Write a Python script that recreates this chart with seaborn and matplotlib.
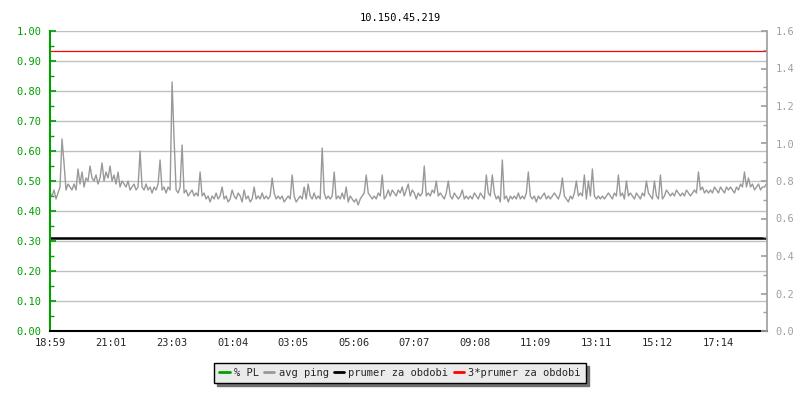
import matplotlib
matplotlib.use('Agg')
import matplotlib.pyplot as plt
import seaborn as sns
import numpy as np
import pandas as pd
from matplotlib.ticker import MultipleLocator, FormatStrFormatter
from matplotlib.lines import Line2D

# ==========================================
# DATA
# ==========================================
title = "10.150.45.219"
tick_labels = ["18:59", "21:01", "23:03", "01:04", "03:05", "05:06",
               "07:07", "09:08", "11:09", "13:11", "15:12", "17:14"]
sample_step_min = 4          # one sample every 4 minutes
x_end_min = 1433

avg_ping = [
    0.46, 0.45, 0.47, 0.44, 0.46, 0.48, 0.64, 0.56, 0.47, 0.49,
    0.48, 0.47, 0.49, 0.47, 0.54, 0.49, 0.53, 0.48, 0.51, 0.50,
    0.55, 0.51, 0.50, 0.52, 0.49, 0.51, 0.56, 0.50, 0.53, 0.51,
    0.55, 0.50, 0.52, 0.49, 0.53, 0.48, 0.50, 0.49, 0.48, 0.50,
    0.47, 0.48, 0.49, 0.47, 0.48, 0.60, 0.48, 0.47, 0.49, 0.47,
    0.48, 0.46, 0.48, 0.47, 0.49, 0.57, 0.47, 0.48, 0.46, 0.48,
    0.47, 0.83, 0.64, 0.47, 0.46, 0.48, 0.62, 0.46, 0.47, 0.45,
    0.46, 0.47, 0.45, 0.46, 0.45, 0.53, 0.45, 0.46, 0.44, 0.45,
    0.43, 0.45, 0.44, 0.46, 0.44, 0.45, 0.48, 0.44, 0.45, 0.43,
    0.44, 0.47, 0.45, 0.44, 0.46, 0.45, 0.43, 0.47, 0.44, 0.45,
    0.43, 0.44, 0.48, 0.44, 0.45, 0.44, 0.46, 0.44, 0.45, 0.44,
    0.45, 0.51, 0.46, 0.44, 0.45, 0.44, 0.45, 0.43, 0.44, 0.45,
    0.44, 0.52, 0.45, 0.43, 0.44, 0.45, 0.44, 0.48, 0.44, 0.49,
    0.45, 0.44, 0.46, 0.44, 0.45, 0.44, 0.61, 0.46, 0.44, 0.45,
    0.44, 0.45, 0.53, 0.44, 0.45, 0.44, 0.46, 0.44, 0.48, 0.43,
    0.45, 0.44, 0.43, 0.44, 0.42, 0.44, 0.45, 0.46, 0.52, 0.46,
    0.45, 0.44, 0.45, 0.44, 0.46, 0.45, 0.52, 0.44, 0.45, 0.47,
    0.45, 0.47, 0.46, 0.45, 0.47, 0.46, 0.48, 0.45, 0.47, 0.49,
    0.45, 0.47, 0.46, 0.44, 0.46, 0.45, 0.46, 0.55, 0.45, 0.46,
    0.45, 0.47, 0.46, 0.50, 0.45, 0.46, 0.45, 0.44, 0.46, 0.50,
    0.45, 0.44, 0.46, 0.45, 0.44, 0.45, 0.47, 0.44, 0.45, 0.44,
    0.45, 0.44, 0.46, 0.45, 0.44, 0.46, 0.45, 0.44, 0.52, 0.46,
    0.45, 0.52, 0.46, 0.44, 0.45, 0.43, 0.57, 0.44, 0.45, 0.43,
    0.45, 0.44, 0.45, 0.44, 0.46, 0.44, 0.45, 0.44, 0.46, 0.53,
    0.45, 0.44, 0.45, 0.43, 0.45, 0.44, 0.45, 0.46, 0.44, 0.45,
    0.44, 0.45, 0.46, 0.45, 0.44, 0.46, 0.51, 0.45, 0.44, 0.43,
    0.45, 0.44, 0.46, 0.50, 0.45, 0.46, 0.45, 0.52, 0.44, 0.50,
    0.45, 0.54, 0.45, 0.44, 0.45, 0.44, 0.45, 0.44, 0.45, 0.46,
    0.45, 0.44, 0.46, 0.45, 0.52, 0.45, 0.46, 0.44, 0.50, 0.45,
    0.46, 0.45, 0.44, 0.46, 0.45, 0.44, 0.46, 0.45, 0.50, 0.46,
    0.45, 0.44, 0.50, 0.45, 0.44, 0.52, 0.44, 0.45, 0.47, 0.46,
    0.45, 0.46, 0.45, 0.47, 0.46, 0.45, 0.46, 0.45, 0.47, 0.46,
    0.45, 0.46, 0.47, 0.46, 0.53, 0.47, 0.48, 0.46, 0.47, 0.46,
    0.47, 0.46, 0.48, 0.47, 0.46, 0.48, 0.47, 0.46, 0.48, 0.47,
    0.48, 0.47, 0.46, 0.48, 0.47, 0.49, 0.48, 0.53, 0.48, 0.51,
    0.48, 0.49, 0.47, 0.48, 0.49, 0.47, 0.48, 0.48, 0.49,
]
pl_values = []               # % PL: nothing to draw
prumer = 0.31
prumer3 = 0.935

series_names = ['% PL', 'avg ping', 'prumer za obdobi', '3*prumer za obdobi']

# ==========================================
# PREP
# ==========================================
def minutes_from_start(label, start="18:59"):
    h, m = map(int, label.split(':'))
    h0, m0 = map(int, start.split(':'))
    return ((h * 60 + m) - (h0 * 60 + m0)) % 1440

tick_pos = [minutes_from_start(t) for t in tick_labels]
df = pd.DataFrame({'t': np.arange(len(avg_ping)) * sample_step_min, 'ping': avg_ping})

GREEN = '#00a000'
GRAY = '#999999'
RGRAY = '#a0a0a0'
RED = '#ff0000'
FS = 7.5

sns.set_theme(style="white")
plt.rcParams['font.family'] = ['DejaVu Sans Mono']

fig = plt.figure(figsize=(8, 4), dpi=100)
ax = fig.add_axes([0.0625, 0.1725, 0.89625, 0.75])

ax.plot(pl_values, pl_values, color=GREEN, lw=2)
sns.lineplot(data=df, x='t', y='ping', ax=ax, color=GRAY, lw=1, legend=False)
ax.axhline(prumer, color='black', lw=1.8)
ax.axhline(prumer3, color=RED, lw=0.9)

ax.set_xlim(0, x_end_min)
ax.set_ylim(0, 1.0)
ax.set_xlabel('')
ax.set_ylabel('')
ax.yaxis.set_major_locator(MultipleLocator(0.1))
ax.yaxis.set_minor_locator(MultipleLocator(0.05))
ax.yaxis.set_major_formatter(FormatStrFormatter('%.2f'))
ax.grid(axis='y', which='major', color='#c0c0c0', lw=1)
ax.set_axisbelow(True)
ax.set_xticks(tick_pos)
ax.set_xticklabels(tick_labels)

ax.spines['top'].set_visible(False)
ax.spines['right'].set_visible(False)
ax.spines['left'].set_color(GREEN)
ax.spines['left'].set_linewidth(1.5)
ax.spines['bottom'].set_color('black')
ax.spines['bottom'].set_linewidth(1.5)
ax.tick_params(axis='y', which='both', direction='in', colors=GREEN, labelsize=FS, pad=6)
ax.tick_params(axis='y', which='major', length=4)
ax.tick_params(axis='y', which='minor', length=3, left=True)
ax.tick_params(axis='x', direction='in', length=5, color='black', labelsize=FS, pad=5)

# right axis
ax2 = ax.twinx()
ax2.set_ylim(0, 1.6)
ax2.yaxis.set_major_locator(MultipleLocator(0.2))
ax2.yaxis.set_minor_locator(MultipleLocator(0.1))
ax2.yaxis.set_major_formatter(FormatStrFormatter('%.1f'))
for s in ['top', 'left', 'bottom']:
    ax2.spines[s].set_visible(False)
ax2.spines['right'].set_color(RGRAY)
ax2.tick_params(axis='y', which='both', direction='in', colors=RGRAY, labelsize=FS, pad=6)
ax2.tick_params(axis='y', which='major', length=4)
ax2.tick_params(axis='y', which='minor', length=3, right=True)
ax2.grid(False)

fig.suptitle(title, y=0.968, fontsize=FS, color='black')

handles = [Line2D([], [], color=c, lw=2) for c in [GREEN, GRAY, 'black', RED]]
leg = fig.legend(handles, series_names, loc='center', bbox_to_anchor=(0.5, 0.0675), ncol=4,
                 fontsize=FS, handlelength=1.0, handletextpad=0.4, columnspacing=0.5,
                 frameon=True, fancybox=False, borderpad=0.5,
                 shadow={'facecolor': '#707070', 'edgecolor': '#707070', 'alpha': 1})
leg.get_frame().set_facecolor('#ebebeb')
leg.get_frame().set_edgecolor('black')
leg.get_frame().set_alpha(1)

fig.savefig('out.png', dpi=100)
